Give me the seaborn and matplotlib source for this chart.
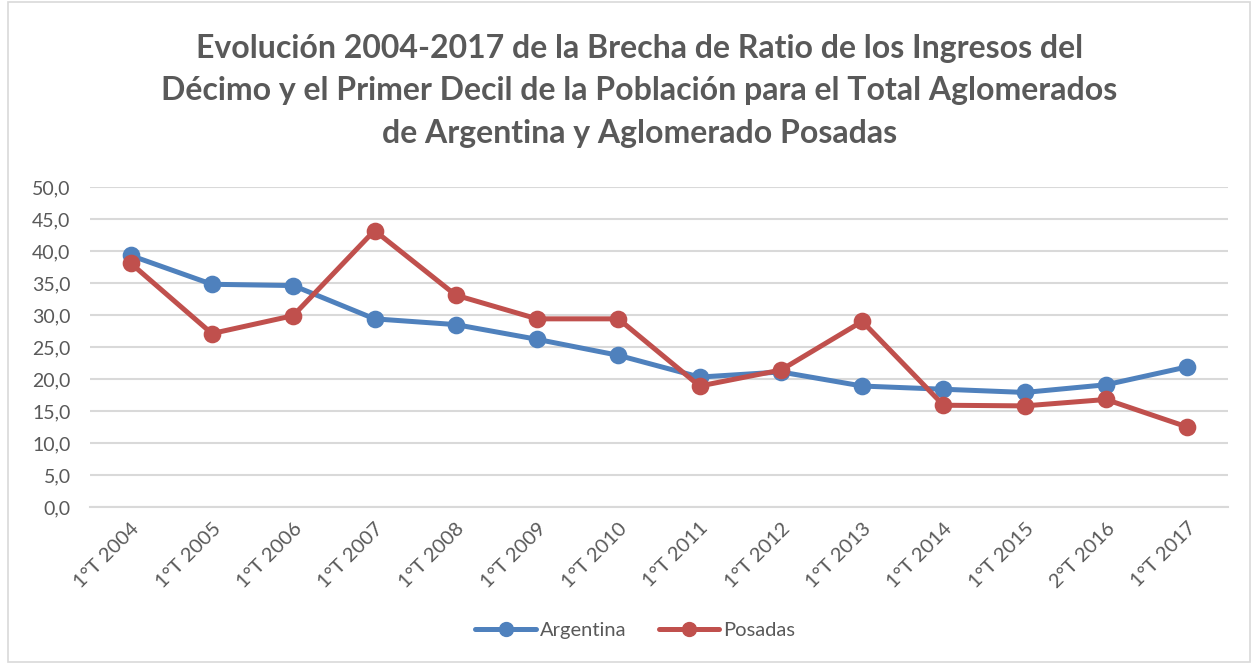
import matplotlib
matplotlib.use("Agg")
import matplotlib.pyplot as plt
import seaborn as sns
import pandas as pd
import numpy as np
from matplotlib.patches import Rectangle

periodos = ["1°T 2004", "1°T 2005", "1°T 2006", "1°T 2007", "1°T 2008", "1°T 2009",
            "1°T 2010", "1°T 2011", "1°T 2012", "1°T 2013", "1°T 2014", "1°T 2015",
            "2°T 2016", "1°T 2017"]
argentina = [39.3, 34.8, 34.6, 29.4, 28.5, 26.2, 23.7, 20.3, 21.1, 18.9, 18.4, 17.9, 19.1, 21.9]
posadas = [38.1, 27.1, 29.9, 43.2, 33.1, 29.4, 29.4, 18.9, 21.4, 29.0, 15.9, 15.8, 16.8, 12.5]
series = ["Argentina", "Posadas"]
y_ticks = [0, 5, 10, 15, 20, 25, 30, 35, 40, 45, 50]
title = ("Evolución 2004-2017 de la Brecha de Ratio de los Ingresos del\n"
         "Décimo y el Primer Decil de la Población para el Total Aglomerados\n"
         "de Argentina y Aglomerado Posadas")

df = pd.concat([
    pd.DataFrame({"periodo": periodos, "valor": argentina, "serie": series[0]}),
    pd.DataFrame({"periodo": periodos, "valor": posadas, "serie": series[1]}),
])

sns.set_theme(style="white")
plt.rcParams["font.family"] = ["Lato", "DejaVu Sans"]

grey_txt = "#595959"
grid_c = "#D9D9D9"
palette = {"Argentina": "#4F81BD", "Posadas": "#C0504D"}

fig = plt.figure(figsize=(12.58, 6.63), dpi=100)
ax = fig.add_axes([90 / 1258, 1 - 507 / 663, (1228 - 90) / 1258, (507 - 187) / 663])

sns.pointplot(data=df, x="periodo", y="valor", hue="serie", order=periodos,
              hue_order=series, palette=palette, markers="o", linestyles="-",
              errorbar=None, ax=ax, linewidth=3.6, markersize=10, legend=False)

ax.set_ylim(0, 50)
ax.set_xlim(-0.5, len(periodos) - 0.5)
ax.set_yticks(y_ticks)
ax.set_yticklabels([f"{v:.1f}".replace(".", ",") for v in y_ticks], color=grey_txt, fontsize=14)
ax.yaxis.grid(True, color=grid_c, linewidth=1.5)
ax.set_axisbelow(True)
ax.set_xlabel("")
ax.set_ylabel("")
for s in ["left", "right", "top"]:
    ax.spines[s].set_visible(False)
ax.spines["bottom"].set_color(grid_c)
ax.spines["bottom"].set_linewidth(1.5)
ax.tick_params(axis="y", length=0, pad=14)
ax.set_xticks(range(len(periodos)))
ax.set_xticklabels(periodos, rotation=45, ha="right", va="top", rotation_mode="anchor",
                   color=grey_txt, fontsize=14.5)
ax.set_xticks(np.arange(-0.5, len(periodos), 1.0), minor=True)
ax.tick_params(axis="x", which="both", direction="in", length=7, width=1.5, color=grid_c)
ax.tick_params(axis="x", which="major", pad=9)

fig.text(0.508, 1 - 34 / 663, title, ha="center", va="top", fontsize=23,
         fontweight="bold", color=grey_txt, linespacing=1.56)

handles = [plt.Line2D([], [], color=palette[s], marker="o", linewidth=3.6, markersize=10)
           for s in series]
fig.legend(handles, series, loc="center", bbox_to_anchor=(0.505, 1 - 630 / 663), ncol=2,
           frameon=False, fontsize=14.5, labelcolor=grey_txt, handlelength=3.0,
           columnspacing=1.6, handletextpad=0.2)

fig.patches.append(Rectangle((8 / 1258, 1 / 663), 1242 / 1258, 660 / 663,
                             transform=fig.transFigure, fill=False,
                             edgecolor=grid_c, linewidth=1.2))

fig.savefig("out.png", dpi=100, facecolor="white")
